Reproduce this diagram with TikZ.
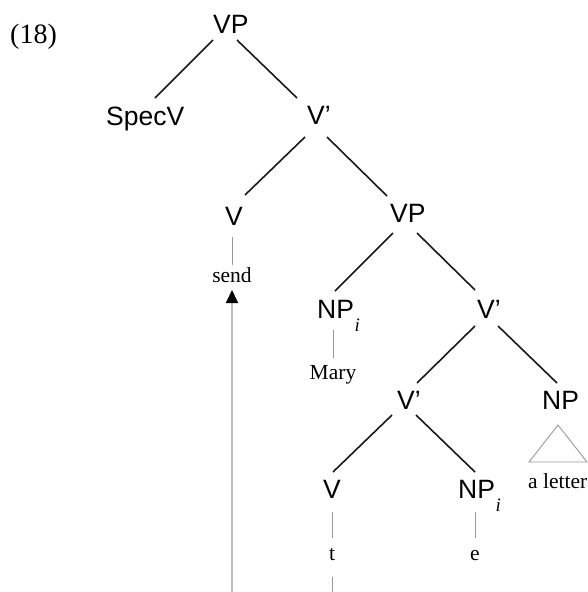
\documentclass[tikz,border=0pt]{standalone}
\usepackage{fontspec}
\setmainfont{Liberation Serif}
\newfontfamily\labfont{Liberation Sans}
\usetikzlibrary{calc,arrows.meta}
\newcommand{\subi}{\kern0.5pt\raisebox{-13pt}{\rmfamily\fontsize{19}{19}\selectfont\itshape i}}
\tikzset{
  cat/.style={anchor=base west,inner sep=0pt,font=\labfont\fontsize{26.5}{30}\selectfont},
  word/.style={anchor=base,inner sep=0pt,font=\fontsize{21.5}{24}\selectfont},
  branch/.style={line width=1.6pt,black!90},
  stem/.style={line width=0.9pt,gray!80},
  move/.style={line width=1.8pt,black!25}
}
\begin{document}
\begin{tikzpicture}[x=1pt,y=-1pt]
\path[use as bounding box] (0,0) rectangle (587,592);
\node[anchor=base west,inner sep=0pt,font=\fontsize{28}{30}\selectfont] (ex) at (10,43) {(18)};
\node[cat] (vp1) at (213,33) {VP};
\node[cat] (specv) at (106,125) {SpecV};
\node[cat] (vb1) at (307,124) {V’};
\node[cat] (v1) at (225,225) {V};
\node[cat] (vp2) at (390,222) {VP};
\node[word] (send) at (232,282) {send};
\node[cat] (npi1) at (317,318) {NP\subi};
\node[word] (mary) at (333,379) {Mary};
\node[cat] (vb2) at (477,318) {V’};
\node[cat] (vb3) at (397,409) {V’};
\node[cat] (np3) at (542,409) {NP};
\node[anchor=base west,inner sep=0pt,font=\fontsize{21.5}{24}\selectfont] (alet) at (528,488) {a letter};
\node[cat] (v4) at (323,498) {V};
\node[cat] (npi4) at (458,498) {NP\subi};
\node[word] (t) at (332,560) {t};
\node[word] (e) at (475,560) {e};
\coordinate (bot) at (232,592);
\coordinate (tbot) at (332,592);
% branches
\draw[branch] ($(vp1.base west)+(0,7)$) -- ($(specv.base west)+(49,-27)$);
\draw[branch] ($(vp1.base west)+(24,7)$) -- ($(vb1.base west)+(-10,-26)$);
\draw[branch] ($(vb1.base west)+(-2,13)$) -- ($(v1.base west)+(20,-30)$);
\draw[branch] ($(vb1.base west)+(20,13)$) -- ($(vp2.base west)+(-3,-26)$);
\draw[branch] ($(vp2.base west)+(3,11)$) -- ($(npi1.base west)+(18,-27)$);
\draw[branch] ($(vp2.base west)+(27,11)$) -- ($(vb2.base west)+(-2,-28)$);
\draw[branch] ($(vb2.base west)+(-2,8)$) -- ($(vb3.base west)+(20,-26)$);
\draw[branch] ($(vb2.base west)+(21,8)$) -- ($(np3.base west)+(15,-26)$);
\draw[branch] ($(vb3.base west)+(-5,6)$) -- ($(v4.base west)+(10,-26)$);
\draw[branch] ($(vb3.base west)+(19,6)$) -- ($(npi4.base west)+(17,-26)$);
% stems
\draw[stem] ($(v1.base west)+(7,12)$) -- ($(send.base)+(0,-17)$);
\draw[stem] ($(npi1.base west)+(16,12)$) -- ($(mary.base)+(0,-21)$);
\draw[stem] ($(v4.base west)+(9,14)$) -- ($(t.base)+(0,-22)$);
\draw[stem] ($(npi4.base west)+(17,14)$) -- ($(e.base)+(0,-22)$);
\draw[stem] ($(t.base)+(0,17)$) -- (tbot);
\draw[stem] ($(np3.base west)+(16,16)$) -- ($(np3.base west)+(-13,53)$) -- ($(np3.base west)+(45,53)$) -- cycle;
% movement arrow
\draw[move,-{Triangle[width=12pt,length=13pt,black]}] (bot) -- ($(send.base)+(0,8)$);
\end{tikzpicture}
\end{document}
